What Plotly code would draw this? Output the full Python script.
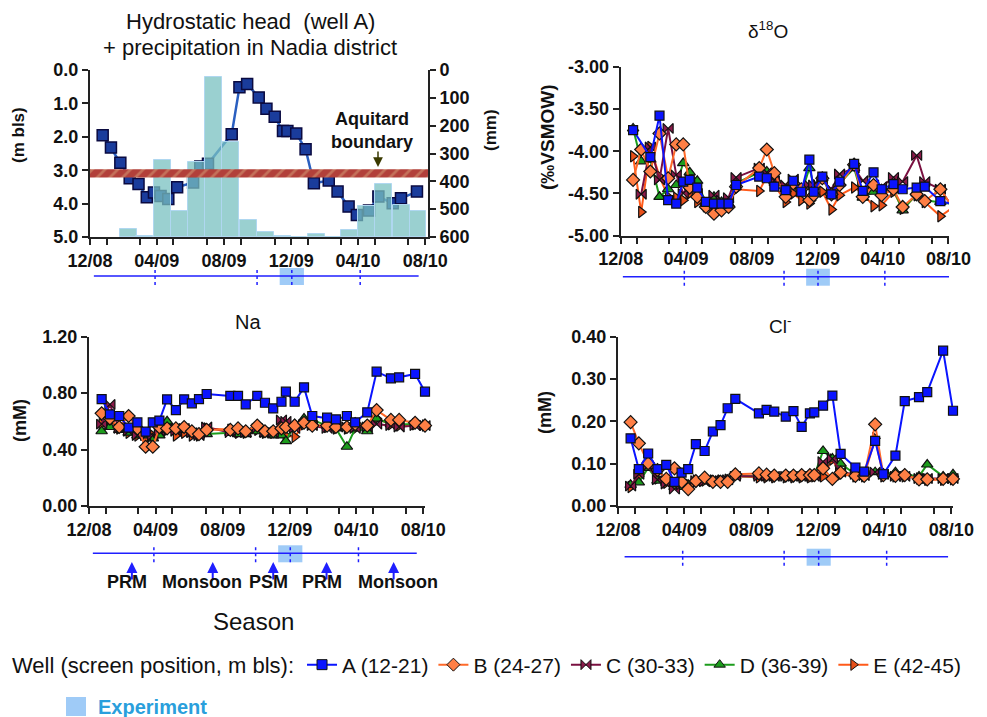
import plotly.graph_objects as go

W, H = 987, 717


def fx(p):
    return p / W


def fy(p):
    return 1 - p / H


# ---------------- data ----------------
DATES = ["2008-12-24", "2009-01-08", "2009-01-25", "2009-02-11", "2009-02-27", "2009-03-14",
         "2009-03-27", "2009-04-08", "2009-04-22", "2009-05-08", "2009-05-23", "2009-06-06",
         "2009-06-19", "2009-07-03", "2009-08-15", "2009-08-29", "2009-09-12", "2009-10-03",
         "2009-10-17", "2009-11-01", "2009-11-16", "2009-11-24", "2009-12-10", "2009-12-27",
         "2010-01-11", "2010-02-07", "2010-02-23", "2010-03-15", "2010-03-30", "2010-04-21",
         "2010-05-08", "2010-06-03", "2010-06-18", "2010-07-17", "2010-08-04"]

HEAD_A = [1.95, 2.32, 2.78, 3.24, 3.41, 3.81, 3.67, 3.77, 3.86, 3.51, None, 3.37, 2.89, 2.81,
          1.92, 0.52, 0.42, 0.82, 1.16, 1.40, 1.83, 1.83, 1.90, 2.37, 3.39, 3.31, 3.64, 4.09,
          4.34, 4.21, 3.79, 3.99, 3.84, 3.64, None]

PRECIP_MONTHS = ["2009-02-09", "2009-03-10", "2009-04-11", "2009-05-12", "2009-06-12", "2009-07-13",
                 "2009-08-13", "2009-09-14", "2009-10-15", "2009-11-15", "2009-12-15", "2010-01-16",
                 "2010-02-16", "2010-03-17", "2010-04-17", "2010-05-18", "2010-06-19", "2010-07-19"]
PRECIP_MM = [29, 3, 277, 93, 270, 574, 341, 60, 17, 3, 0, 10, 0, 24, 111, 191, 115, 93]

AQUITARD_TOP = 2.97
AQUITARD_BOTTOM = 3.22

WELLS = ["A (12-21)", "B (24-27)", "C (30-33)", "D (36-39)", "E (42-45)"]

D18O_A = [-3.75, None, -4.07, -3.58, -4.58, -4.62, -4.36, -4.34, -4.43, -4.60, -4.62, -4.62,
          -4.62, -4.40, -4.30, -4.32, -4.42, -4.46, -4.35, -4.48, -4.10, -4.48, -4.30, -4.51,
          -4.36, -4.15, -4.47, -4.25, -4.45, -4.39, -4.45, -4.43, -4.42, -4.59, -4.62]
D18O_B = [-4.34, -3.98, -4.24, -3.79, -4.32, -3.92, -3.92, -4.43, -4.54, -4.66, -4.74, -4.70,
          -4.66, -4.42, -4.20, -3.98, -4.26, -4.54, -4.38, -4.45, -4.58, -4.52, -4.32, -4.51,
          -4.40, -4.16, -4.54, -4.40, -4.52, -4.45, -4.66, -4.51, -4.59, -4.45, -4.62]
D18O_C = [None, -4.51, -3.95, -4.34, -3.73, -4.28, -4.50, -4.40, -4.50, -4.60, -4.52, -4.58,
          -4.55, -4.31, -4.20, -4.25, -4.35, -4.40, -4.33, -4.45, -4.40, -4.40, -4.35, -4.45,
          -4.27, -4.20, -4.35, -4.40, -4.42, -4.31, -4.36, -4.05, -4.36, -4.45, -4.62]
D18O_D = [-3.73, -4.12, -4.10, -4.54, -4.45, -4.40, -4.14, -4.25, -4.35, -4.62, -4.54, -4.60,
          -4.62, -4.38, -4.25, -4.24, -4.35, -4.45, -4.38, -4.50, -4.20, -4.40, -4.32, -4.52,
          -4.38, -4.20, -4.55, -4.48, -4.45, -4.45, -4.70, -4.50, -4.58, -4.60, -4.62]
D18O_E = [-4.06, -4.72, -3.95, -4.30, -4.54, -4.55, -4.58, -4.50, -4.60, -4.65, -4.70, -4.65,
          -4.60, -4.45, -4.47, -4.30, -4.40, -4.60, -4.50, -4.58, -4.62, -4.50, -4.48, -4.69,
          -4.52, -4.43, -4.50, -4.65, -4.64, -4.48, -4.68, -4.52, -4.60, -4.77, -4.69]

NA_A = [0.758, 0.650, 0.638, 0.555, 0.593, 0.527, 0.593, 0.605, 0.756, 0.680, 0.756, 0.728,
        0.758, 0.794, 0.780, 0.780, 0.721, 0.780, 0.732, 0.692, 0.739, 0.810, 0.739, 0.841,
        0.638, 0.626, 0.614, 0.638, 0.593, 0.664, 0.952, 0.905, 0.912, 0.936, 0.810]
NA_B = [0.657, 0.62, 0.56, 0.638, 0.55, 0.42, 0.42, 0.558, 0.55, 0.55, 0.56, 0.53, 0.51, 0.54,
        0.54, 0.55, 0.53, 0.57, 0.53, 0.53, 0.55, 0.56, 0.57, 0.59, 0.57, 0.57, 0.56, 0.56, 0.58,
        0.57, 0.68, 0.61, 0.61, 0.59, 0.57]
NA_C = [0.58, 0.72, 0.55, 0.53, 0.50, 0.50, 0.50, 0.53, 0.55, 0.53, 0.55, 0.52, 0.50, 0.56,
        0.52, 0.53, 0.52, 0.55, 0.52, 0.52, 0.61, 0.60, 0.55, 0.58, 0.57, 0.55, 0.57, 0.56, 0.55,
        0.56, 0.58, 0.57, 0.56, 0.57, 0.57]
NA_D = [0.53, 0.56, 0.54, 0.52, 0.50, 0.50, 0.48, 0.50, 0.60, 0.55, 0.54, 0.51, 0.50, 0.51,
        0.52, 0.51, 0.51, 0.53, 0.51, 0.50, 0.50, 0.46, 0.58, 0.62, 0.61, 0.57, 0.55, 0.42, 0.55,
        0.53, 0.62, 0.58, 0.58, 0.58, 0.58]
NA_E = [0.58, 0.60, 0.55, 0.52, 0.50, 0.47, 0.50, 0.52, 0.54, 0.50, 0.52, 0.50, 0.50, 0.55,
        0.54, 0.52, 0.52, 0.54, 0.52, 0.52, 0.53, 0.50, 0.49, 0.58, 0.58, 0.56, 0.55, 0.55, 0.55,
        0.56, 0.62, 0.58, 0.57, 0.58, 0.57]

CL_A = [0.160, 0.087, 0.124, 0.087, 0.097, 0.057, 0.079, 0.087, 0.146, 0.130, 0.176, 0.191,
        0.231, 0.253, 0.219, 0.227, 0.223, 0.211, 0.224, 0.187, 0.219, 0.221, 0.237, 0.261,
        0.123, 0.091, 0.081, 0.154, 0.075, 0.119, 0.248, 0.257, 0.269, 0.367, 0.225]
CL_B = [0.198, 0.148, 0.101, 0.085, 0.064, 0.089, 0.057, 0.040, 0.059, 0.067, 0.057, 0.057,
        0.057, 0.075, 0.077, 0.074, 0.072, 0.072, 0.072, 0.073, 0.073, 0.073, 0.089, 0.064,
        0.079, 0.071, 0.071, 0.193, 0.073, 0.071, 0.073, 0.063, 0.063, 0.064, 0.064]
CL_C = [0.047, 0.075, 0.095, 0.062, 0.052, 0.040, 0.050, 0.050, 0.060, 0.057, 0.060, 0.060,
        0.062, 0.070, 0.070, 0.070, 0.070, 0.070, 0.070, 0.070, 0.070, 0.070, 0.105, 0.112,
        0.080, 0.075, 0.072, 0.080, 0.075, 0.070, 0.070, 0.065, 0.065, 0.065, 0.065]
CL_D = [0.050, 0.056, 0.090, 0.060, 0.055, 0.045, 0.045, 0.050, 0.055, 0.058, 0.060, 0.060,
        0.062, 0.070, 0.070, 0.070, 0.070, 0.070, 0.070, 0.070, 0.070, 0.072, 0.130, 0.112,
        0.100, 0.075, 0.075, 0.080, 0.075, 0.080, 0.075, 0.070, 0.098, 0.070, 0.075]
CL_E = [0.045, 0.070, 0.100, 0.065, 0.055, 0.050, 0.055, 0.050, 0.060, 0.060, 0.060, 0.060,
        0.062, 0.070, 0.068, 0.068, 0.068, 0.068, 0.068, 0.068, 0.068, 0.070, 0.070, 0.110,
        0.075, 0.070, 0.070, 0.160, 0.070, 0.070, 0.070, 0.065, 0.062, 0.062, 0.063]

SEASON_BOUNDS = ["2009-03-29", "2009-09-30", "2009-12-02", "2010-04-05"]
EXPERIMENT = ["2009-11-10", "2009-12-24"]
SEASON_ARROWS = ["2009-02-17", "2009-07-14", "2009-11-01", "2010-02-06", "2010-06-08"]
SEASON_LABELS = ["PRM", "Monsoon", "PSM", "PRM", "Monsoon"]
SEASON_LABEL_POS = ["2009-02-08", "2009-06-24", "2009-10-23", "2010-01-29", "2010-06-16"]

# ---------------- styles ----------------
LINE_COLORS = ["#0a14ff", "#ff6a2a", "#7a1040", "#1c9c1c", "#ff5a1a"]
FILL_COLORS = ["#0a14ff", "#ff7f45", "#8b1a4a", "#1c9c1c", "#e8501a"]
SYMBOLS = ["square", "diamond", "bowtie", "triangle-up", "triangle-right"]
FONT = "Liberation Sans, Arial, sans-serif"
TICKFONT = dict(family=FONT, size=18, color="#111", weight="bold")
AXCOL = "#222"

fig = go.Figure()

# ---------------- panel 1 : hydrostatic head + precipitation ----------------
fig.add_trace(go.Scatter(
    x=DATES, y=HEAD_A, mode="lines+markers", connectgaps=True, showlegend=False,
    line=dict(color="#2a5fc0", width=2.5),
    marker=dict(symbol="square", size=11, color="#1a3c9c", line=dict(color="#0a0a40", width=1.5)),
    xaxis="x", yaxis="y", cliponaxis=False))

fig.add_trace(go.Bar(
    x=PRECIP_MONTHS, y=[-p for p in PRECIP_MM], base=600, showlegend=False,
    width=30.5 * 86400000,
    marker=dict(color="rgba(120,192,192,0.75)", line=dict(color="rgba(175,215,240,1)", width=1)),
    xaxis="x", yaxis="y2"))

fig.add_trace(go.Scatter(
    x=["2008-12-01", "2010-08-06", "2010-08-06", "2008-12-01", "2008-12-01"],
    y=[AQUITARD_TOP, AQUITARD_TOP, AQUITARD_BOTTOM, AQUITARD_BOTTOM, AQUITARD_TOP],
    mode="lines", fill="toself", line=dict(width=0, color="#b5443c"), showlegend=False,
    fillcolor="#b5443c",
    fillpattern=dict(shape="/", bgcolor="#b2403a", fgcolor="#d6a27a", size=9, solidity=0.3),
    xaxis="x", yaxis="y3", hoverinfo="skip"))

# ---------------- panels 2-4 ----------------
panels = [("x2", "y4", [D18O_A, D18O_B, D18O_C, D18O_D, D18O_E]),
          ("x3", "y5", [NA_A, NA_B, NA_C, NA_D, NA_E]),
          ("x4", "y6", [CL_A, CL_B, CL_C, CL_D, CL_E])]
order = [4, 3, 2, 1, 0]
for xa, ya, series in panels:
    for i in order:
        fig.add_trace(go.Scatter(
            x=DATES, y=series[i], name=WELLS[i], mode="lines+markers", connectgaps=True,
            showlegend=False,
            line=dict(color=LINE_COLORS[i], width=2),
            marker=dict(symbol=SYMBOLS[i], size=10 if i else 9, color=FILL_COLORS[i],
                        line=dict(color="#111", width=1.2)),
            xaxis=xa, yaxis=ya, cliponaxis=False))

# legend entries
for i in range(5):
    fig.add_trace(go.Scatter(
        x=[None], y=[None], name=WELLS[i], mode="lines+markers", legendrank=i,
        line=dict(color=LINE_COLORS[i], width=2),
        marker=dict(symbol=SYMBOLS[i], size=10, color=FILL_COLORS[i], line=dict(color="#111", width=1)),
        xaxis="x2", yaxis="y4"))


def xaxis_cfg(x0, x1, rng):
    return dict(domain=[fx(x0), fx(x1)], range=rng, type="date", dtick="M4", tick0="2008-12-01",
                tickformat="%m/%y", ticks="outside", ticklen=6, tickwidth=1.5, tickcolor=AXCOL,
                showline=True, linecolor=AXCOL, linewidth=2, showgrid=False, zeroline=False,
                tickfont=TICKFONT, fixedrange=True, automargin=False,
                minor=dict(dtick="M2", ticks="outside", ticklen=6, tickwidth=1.5, tickcolor=AXCOL,
                           showgrid=False))


def yaxis_cfg(top, bottom, rng, vals, texts, anchor, side="left"):
    return dict(domain=[fy(bottom), fy(top)], range=rng, tickvals=vals, ticktext=texts, anchor=anchor,
                side=side, ticks="outside", ticklen=6, tickwidth=1.5, tickcolor=AXCOL, showline=True,
                linecolor=AXCOL, linewidth=2, showgrid=False, zeroline=False, tickfont=TICKFONT,
                fixedrange=True, automargin=False)


fig.update_layout(
    width=W, height=H, margin=dict(l=0, r=0, t=0, b=0, autoexpand=False),
    paper_bgcolor="white", plot_bgcolor="rgba(0,0,0,0)",
    font=dict(family=FONT, color="#111"),
    bargap=0,
    xaxis=dict(xaxis_cfg(90, 428, ["2008-12-01", "2010-08-06"]), anchor="y"),
    yaxis=yaxis_cfg(70, 237, [5, 0], [0, 1, 2, 3, 4, 5], ["0.0", "1.0", "2.0", "3.0", "4.0", "5.0"], "x"),
    yaxis2=dict(yaxis_cfg(70, 237, [600, 0], [0, 100, 200, 300, 400, 500, 600],
                          ["0", "100", "200", "300", "400", "500", "600"], "x", "right"), overlaying="y"),
    yaxis3=dict(domain=[fy(237), fy(70)], range=[5, 0], overlaying="y", visible=False, anchor="x",
                fixedrange=True),
    xaxis2=dict(xaxis_cfg(620.7, 949, ["2008-12-01", "2010-08-02"]), anchor="y4"),
    yaxis4=yaxis_cfg(66.7, 235.7, [-5, -3], [-5, -4.5, -4, -3.5, -3],
                     ["-5.00", "-4.50", "-4.00", "-3.50", "-3.00"], "x2"),
    xaxis3=dict(xaxis_cfg(89, 425, ["2008-12-01", "2010-08-04"]), anchor="y5"),
    yaxis5=yaxis_cfg(336.7, 506, [0, 1.2], [0, 0.4, 0.8, 1.2], ["0.00", "0.40", "0.80", "1.20"], "x3"),
    xaxis4=dict(xaxis_cfg(618, 953, ["2008-12-01", "2010-08-04"]), anchor="y6"),
    yaxis6=yaxis_cfg(336.7, 506, [0, 0.4], [0, 0.1, 0.2, 0.3, 0.4],
                     ["0.00", "0.10", "0.20", "0.30", "0.40"], "x4"),
    legend=dict(orientation="h", x=fx(10), y=fy(665), xanchor="left", yanchor="middle",
                font=dict(family=FONT, size=21, color="#111"),
                title=dict(text="Well (screen position, m bls):", side="left",
                           font=dict(family=FONT, size=22, color="#111")),
                itemwidth=30, bgcolor="rgba(0,0,0,0)", traceorder="normal"),
)

# ---------------- timelines ----------------
timelines = [("x", 276, "2008-12-08", "2010-07-20"),
             ("x2", 276.7, "2008-12-05", "2010-08-02"),
             ("x3", 553.3, "2008-12-08", "2010-07-20"),
             ("x4", 556.7, "2008-12-13", "2010-07-26")]
for xr, yp, t0, t1 in timelines:
    fig.add_shape(type="rect", xref=xr, yref="paper", x0=EXPERIMENT[0], x1=EXPERIMENT[1],
                  y0=fy(yp + 9), y1=fy(yp - 8), fillcolor="#9fcbf7", line_width=0)
    fig.add_shape(type="line", xref=xr, yref="paper", x0=t0, x1=t1, y0=fy(yp), y1=fy(yp),
                  line=dict(color="#1f1fff", width=1.5))
    for d in SEASON_BOUNDS:
        fig.add_shape(type="line", xref=xr, yref="paper", x0=d, x1=d, y0=fy(yp + 9), y1=fy(yp - 8),
                      line=dict(color="#1f1fff", width=1.5, dash="dot"))

for d in SEASON_ARROWS:
    fig.add_annotation(x=d, y=fy(562), xref="x3", yref="paper", text="", showarrow=True,
                       ax=0, ay=19, arrowhead=2, arrowsize=1.1, arrowwidth=2, arrowcolor="#1f1fff")
for d, lab in zip(SEASON_LABEL_POS, SEASON_LABELS):
    fig.add_annotation(x=d, y=fy(594), xref="x3", yref="paper", text=lab, showarrow=False,
                       font=dict(family=FONT, size=18, color="#111", weight="bold"))


# ---------------- text ----------------
def txt(x, y, text, size=18, weight="normal", angle=0, color="#111", xanchor="center"):
    fig.add_annotation(x=fx(x), y=fy(y), xref="paper", yref="paper", text=text, showarrow=False,
                       textangle=angle, xanchor=xanchor, yanchor="middle",
                       font=dict(family=FONT, size=size, color=color, weight=weight))


txt(250, 22, "Hydrostatic head  (well A)", 22)
txt(250, 47, "+ precipitation in Nadia district", 22)
txt(768, 30, "δ<sup>18</sup>O", 19)
txt(248, 322, "Na", 20)
txt(780, 325, "Cl<sup>-</sup>", 19)
txt(18, 135, "(m bls)", 17, "bold", -90)
txt(490, 130, "(mm)", 17, "bold", -90)
txt(547, 137, "(‰VSMOW)", 19, "bold", -90)
txt(20, 421, "(mM)", 18, "bold", -90)
txt(545, 413, "(mM)", 18, "bold", -90)
txt(253, 621, "Season", 24)
txt(372, 130, "Aquitard<br>boundary", 18, "bold")
fig.add_annotation(x=fx(378), y=fy(167), xref="paper", yref="paper", text="", showarrow=True,
                   ax=0, ay=-17, arrowhead=2, arrowsize=1.3, arrowwidth=1.5, arrowcolor="#3a3a00")

fig.add_shape(type="rect", xref="paper", yref="paper", x0=fx(66), x1=fx(86), y0=fy(716), y1=fy(697),
              fillcolor="#9fcbf7", line_width=0)
txt(96, 707, "Experiment", 20, "bold", 0, "#2a9fdc", "left")

fig.write_html("out.html")
